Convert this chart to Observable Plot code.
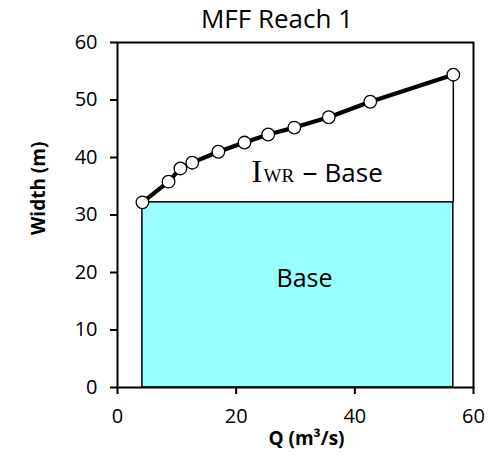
<!DOCTYPE html>
<html><head><meta charset="utf-8">
<script src="https://cdn.jsdelivr.net/npm/d3@7"></script>
<script src="https://cdn.jsdelivr.net/npm/@observablehq/plot@0.6"></script>
<style>
body{margin:0;background:#fff;}
#title{font-family:"Open Sans";font-size:26px;height:36px;line-height:36px;width:432px;padding-left:61px;text-align:center;color:#000;}
</style></head><body>
<div id="title">MFF Reach 1</div>
<div id="chart"></div>
<script>
const discharge = [4.2, 8.6, 10.6, 12.6, 17.0, 21.4, 25.4, 29.8, 35.6, 42.6, 56.6];
const widths = [32.2, 35.8, 38.1, 39.1, 41.0, 42.6, 44.0, 45.2, 47.0, 49.7, 54.4];
const xTicks = [0, 20, 40, 60];
const yTicks = [0, 10, 20, 30, 40, 50, 60];
const xLabel = "Q (m³/s)";
const yLabel = "Width (m)";
const baseLabel = "Base";

const data = discharge.map((q, i) => ({q, w: widths[i]}));
const baseWidth = widths[0];
const qMin = discharge[0], qMax = discharge[discharge.length - 1];

const chart = Plot.plot({
  width: 493, height: 420,
  marginTop: 6, marginBottom: 69, marginLeft: 117, marginRight: 20,
  style: {fontFamily: "Open Sans", color: "#000", background: "#fff", overflow: "visible"},
  x: {domain: [0, 60]},
  y: {domain: [0, 60]},
  marks: [
    Plot.rect([{x1: qMin, x2: qMax, y1: 0, y2: baseWidth}], {x1: "x1", x2: "x2", y1: "y1", y2: "y2", fill: "#99ffff", stroke: "#000", strokeWidth: 1.5}),
    Plot.ruleX([qMax], {y1: baseWidth, y2: widths[widths.length - 1], stroke: "#000", strokeWidth: 1.5}),
    Plot.line(data, {x: "q", y: "w", stroke: "#000", strokeWidth: 4.2}),
    Plot.dot(data, {x: "q", y: "w", r: 6.3, fill: "#fff", stroke: "#000", strokeWidth: 1.3}),
    Plot.frame({stroke: "#000", strokeWidth: 2}),
    Plot.axisX({ticks: xTicks, tickSize: 7, tickPadding: 14, strokeWidth: 2, fontSize: 20, label: null}),
    Plot.axisY({ticks: yTicks, tickSize: 7, tickPadding: 13, strokeWidth: 2, fontSize: 20, label: null}),
    Plot.text(["I"], {text: d => d, frameAnchor: "top-left", dx: 134, dy: 139, lineAnchor: "bottom", textAnchor: "start", fontFamily: "Liberation Serif", fontSize: 32}),
    Plot.text(["WR"], {text: d => d, frameAnchor: "top-left", dx: 146, dy: 139, lineAnchor: "bottom", textAnchor: "start", fontFamily: "Liberation Serif", fontSize: 19}),
    Plot.text(["–"], {text: d => d, frameAnchor: "top-left", dx: 185, dy: 139, lineAnchor: "bottom", textAnchor: "start", fontSize: 30}),
    Plot.text([baseLabel], {text: d => d, frameAnchor: "top-left", dx: 207, dy: 139, lineAnchor: "bottom", textAnchor: "start", fontSize: 26}),
    Plot.text([baseLabel], {text: d => d, frameAnchor: "top-left", dx: 187, dy: 244, lineAnchor: "bottom", textAnchor: "middle", fontSize: 25}),
    Plot.text([yLabel], {text: d => d, frameAnchor: "left", dx: -79, dy: 20, rotate: -90, fontWeight: "bold", fontSize: 19}),
    Plot.text([xLabel], {text: d => d, frameAnchor: "bottom", dx: 11, dy: 57, fontWeight: "bold", fontSize: 19})
  ]
});
document.getElementById("chart").appendChild(chart);
</script>
</body></html>
